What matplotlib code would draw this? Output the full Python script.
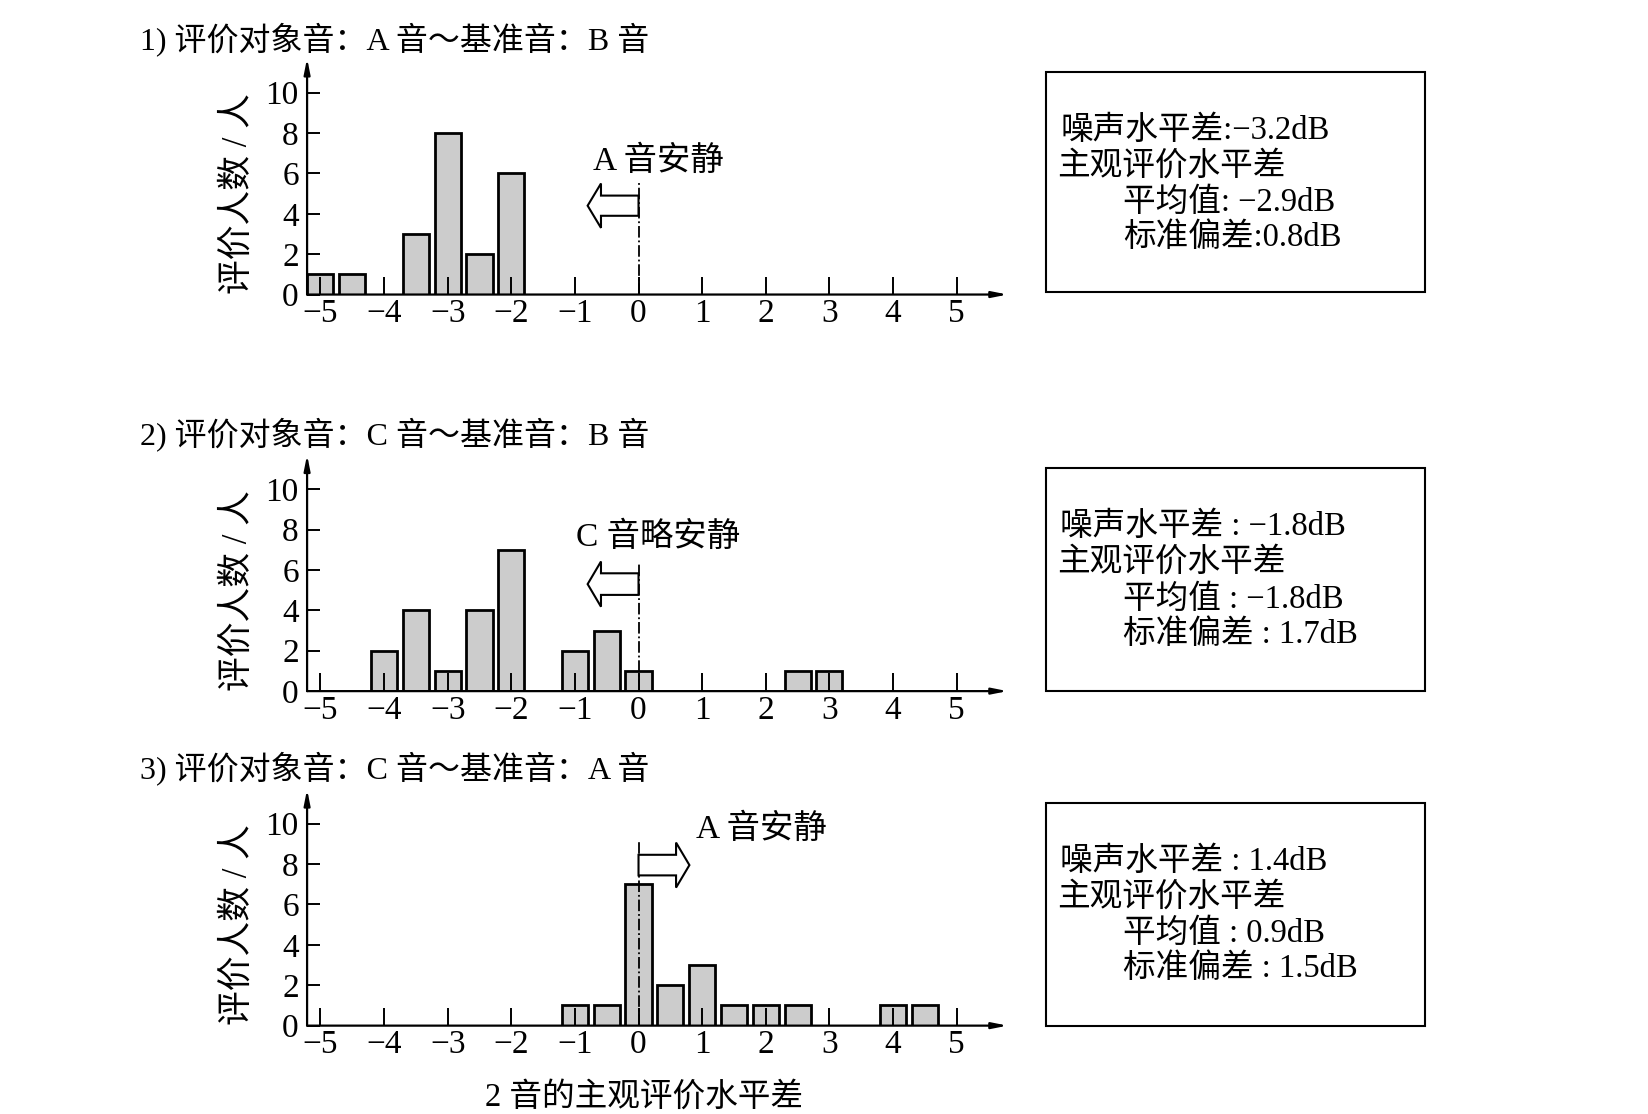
import matplotlib
matplotlib.use('Agg')
import matplotlib.pyplot as plt
from matplotlib.patches import FancyArrow, Rectangle

plt.rcParams['font.family'] = ['Liberation Serif', 'Noto Sans CJK SC']
plt.rcParams['axes.unicode_minus'] = True

# ---- data ----
titles = ['1) 评价对象音：A 音～基准音：B 音',
          '2) 评价对象音：C 音～基准音：B 音',
          '3) 评价对象音：C 音～基准音：A 音']

x_1 = [-5, -4.5, -3.5, -3, -2.5, -2]
n_1 = [1, 1, 3, 8, 2, 6]
x_2 = [-4, -3.5, -3, -2.5, -2, -1, -0.5, 0, 2.5, 3]
n_2 = [2, 4, 1, 4, 7, 2, 3, 1, 1, 1]
x_3 = [-1, -0.5, 0, 0.5, 1, 1.5, 2, 2.5, 4, 4.5]
n_3 = [1, 1, 7, 2, 3, 1, 1, 1, 1, 1]

notes = ['A 音安静', 'C 音略安静', 'A 音安静']

box_lines = [['噪声水平差:−3.2dB', '主观评价水平差', '平均值: −2.9dB', '标准偏差:0.8dB'],
             ['噪声水平差 : −1.8dB', '主观评价水平差', '平均值 : −1.8dB', '标准偏差 : 1.7dB'],
             ['噪声水平差 : 1.4dB', '主观评价水平差', '平均值 : 0.9dB', '标准偏差 : 1.5dB']]

xticks = list(range(-5, 6))
yticks = [0, 2, 4, 6, 8, 10]

# ---- layout (perceived pixel grid 1568 x 1059) ----
W, H = 1568.0, 1059.0
axis_y = [280, 657, 975]        # pixel row of the x axis
box_top = [68, 445, 763]
box_bot = [278, 657, 975]
title_y = [37, 413, 730]

# arrow settings: (tail y, direction, shaft width, head width)
arrows = [(4.4, -1, 1.0, 2.2), (5.3, -1, 1.07, 2.24), (7.95, 1, 1.02, 2.23)]
dash_top = [5.5, 6.4, 9.1]
note_pos = [(-0.72, 6.6), (-0.98, 7.6), (0.9, 9.7)]

xs = [x_1, x_2, x_3]
ns = [n_1, n_2, n_3]

fig = plt.figure(figsize=(16.49, 11.14), dpi=100)

ymax = 11.7
xmin, xmax = -5.21, 5.8
fs = 24

for i in range(3):
    bottom = 1 - axis_y[i] / H
    height = 224.6 / H
    ax = fig.add_axes([292 / W, bottom, 666 / W, height])
    ax.set_xlim(xmin, xmax)
    ax.set_ylim(0, ymax)
    for s in ax.spines.values():
        s.set_visible(False)
    ax.patch.set_alpha(0)

    ax.bar(xs[i], ns[i], width=0.41, color='#cccccc', edgecolor='k',
           linewidth=2.0, zorder=1)

    ax.set_xticks(xticks)
    ax.set_yticks(yticks)
    ax.tick_params(axis='x', direction='in', length=13, width=1.4,
                   labelsize=fs, pad=3)
    ax.tick_params(axis='y', direction='in', length=9, width=1.4,
                   labelsize=fs, pad=6)

    # axis lines with arrow heads
    ax.annotate('', xy=(1, 0), xytext=(0, 0), xycoords='axes fraction',
                arrowprops=dict(arrowstyle='-|>,head_length=0.9,head_width=0.18',
                                lw=1.6, color='k', shrinkA=0, shrinkB=0))
    ax.annotate('', xy=(0, 1.0), xytext=(0, 0), xycoords='axes fraction',
                arrowprops=dict(arrowstyle='-|>,head_length=0.9,head_width=0.18',
                                lw=1.6, color='k', shrinkA=0, shrinkB=0))

    # dash-dot zero line
    ax.vlines(0, 0, dash_top[i], colors='k', linestyles='-.', linewidth=1.3,
              zorder=3)

    # hollow arrow
    ay, d, w, hw = arrows[i]
    ax.add_patch(FancyArrow(0, ay, 0.8 * d, 0, width=w, head_width=hw,
                            head_length=0.21, length_includes_head=True,
                            facecolor='white', edgecolor='k', linewidth=1.5,
                            zorder=4))
    ax.text(note_pos[i][0], note_pos[i][1], notes[i], fontsize=24,
            ha='left', va='center')

    ax.text(-6.3, 5, '评价人数 / 人', rotation=90, fontsize=25,
            ha='center', va='center', clip_on=False)

    fig.text(133 / W, 1 - title_y[i] / H, titles[i], fontsize=23,
             ha='left', va='center')

    # info box
    bx = 995 / W
    by = 1 - box_bot[i] / H
    bh = (box_bot[i] - box_top[i]) / H
    fig.add_artist(Rectangle((bx, by), 360 / W, bh, transform=fig.transFigure,
                             fill=False, edgecolor='k', linewidth=1.5))
    offs_y = [56, 90, 125, 158]
    offs_x = [13, 10, 73, 73]
    for k, line in enumerate(box_lines[i]):
        fig.text((995 + offs_x[k]) / W, 1 - (box_top[i] + offs_y[k]) / H, line,
                 fontsize=23.5, ha='left', va='center')

fig.text(612 / W, 1 - 1043 / H, '2 音的主观评价水平差', fontsize=23.5,
         ha='center', va='center')

fig.savefig('out.png', dpi=100)
